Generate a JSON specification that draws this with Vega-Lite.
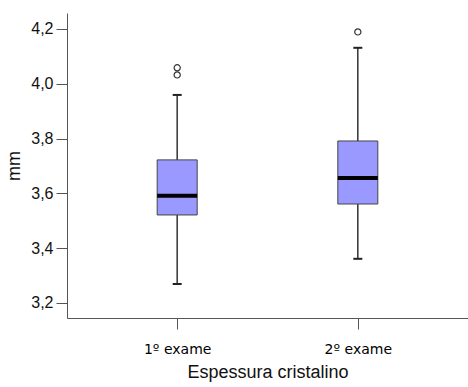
{
  "$schema": "https://vega.github.io/schema/vega-lite/v6.json",
  "width": 401,
  "height": 305,
  "autosize": "none",
  "padding": {"left": 67, "top": 13, "right": 0, "bottom": 69},
  "background": "white",
  "config": {
    "view": {"stroke": null},
    "font": "Liberation Sans"
  },
  "datasets": {
    "stats": [
      {"exame": "1º exame", "lower": 3.269, "q1": 3.521, "median": 3.591, "q3": 3.722, "upper": 3.959},
      {"exame": "2º exame", "lower": 3.361, "q1": 3.561, "median": 3.656, "q3": 3.791, "upper": 4.131}
    ],
    "outliers": [
      {"exame": "1º exame", "value": 4.058},
      {"exame": "1º exame", "value": 4.032},
      {"exame": "2º exame", "value": 4.189}
    ]
  },
  "encoding": {
    "x": {
      "field": "exame",
      "type": "nominal",
      "sort": ["1º exame", "2º exame"],
      "scale": {"type": "point", "padding": 0.61},
      "axis": {
        "title": "Espessura cristalino",
        "titleFont": "Liberation Sans",
        "titleFontSize": 18,
        "titleFontWeight": "normal",
        "titleColor": "#111111",
        "titlePadding": 7,
        "labelAngle": 0,
        "labelFont": "DejaVu Sans",
        "labelFontSize": 14,
        "labelColor": "#000000",
        "labelPadding": 13,
        "tickSize": 11,
        "tickColor": "#555555",
        "domainColor": "#555555",
        "grid": false
      }
    }
  },
  "layer": [
    {
      "data": {"name": "stats"},
      "mark": {"type": "rule", "color": "#333333", "strokeWidth": 1.5},
      "encoding": {
        "y": {
          "field": "lower",
          "type": "quantitative",
          "scale": {"domain": [3.145, 4.258], "nice": false, "zero": false},
          "axis": {
            "title": "mm",
            "titleFont": "Liberation Sans",
            "titleFontSize": 18,
            "titleFontWeight": "normal",
            "titleColor": "#111111",
            "titlePadding": 7,
            "values": [3.2, 3.4, 3.6, 3.8, 4.0, 4.2],
            "labelExpr": "replace(format(datum.value, '.1f'), '.', ',')",
            "labelFontSize": 16,
            "labelColor": "#111111",
            "labelPadding": 3,
            "tickSize": 11,
            "tickColor": "#555555",
            "domainColor": "#555555",
            "grid": false
          }
        },
        "y2": {"field": "upper"}
      }
    },
    {
      "data": {"name": "stats"},
      "mark": {"type": "tick", "color": "#222222", "opacity": 1, "size": 9, "thickness": 2},
      "encoding": {"y": {"field": "lower", "type": "quantitative"}}
    },
    {
      "data": {"name": "stats"},
      "mark": {"type": "tick", "color": "#222222", "opacity": 1, "size": 9, "thickness": 2},
      "encoding": {"y": {"field": "upper", "type": "quantitative"}}
    },
    {
      "data": {"name": "stats"},
      "mark": {"type": "bar", "size": 40, "fill": "#9999ff", "stroke": "#444444", "strokeWidth": 1, "opacity": 1},
      "encoding": {
        "y": {"field": "q1", "type": "quantitative"},
        "y2": {"field": "q3"}
      }
    },
    {
      "data": {"name": "stats"},
      "mark": {"type": "tick", "color": "#000000", "opacity": 1, "size": 40, "thickness": 4},
      "encoding": {"y": {"field": "median", "type": "quantitative"}}
    },
    {
      "data": {"name": "outliers"},
      "mark": {"type": "point", "shape": "circle", "filled": false, "fill": "white", "stroke": "#333333", "strokeWidth": 1.2, "opacity": 1, "size": 38},
      "encoding": {"y": {"field": "value", "type": "quantitative"}}
    }
  ]
}
